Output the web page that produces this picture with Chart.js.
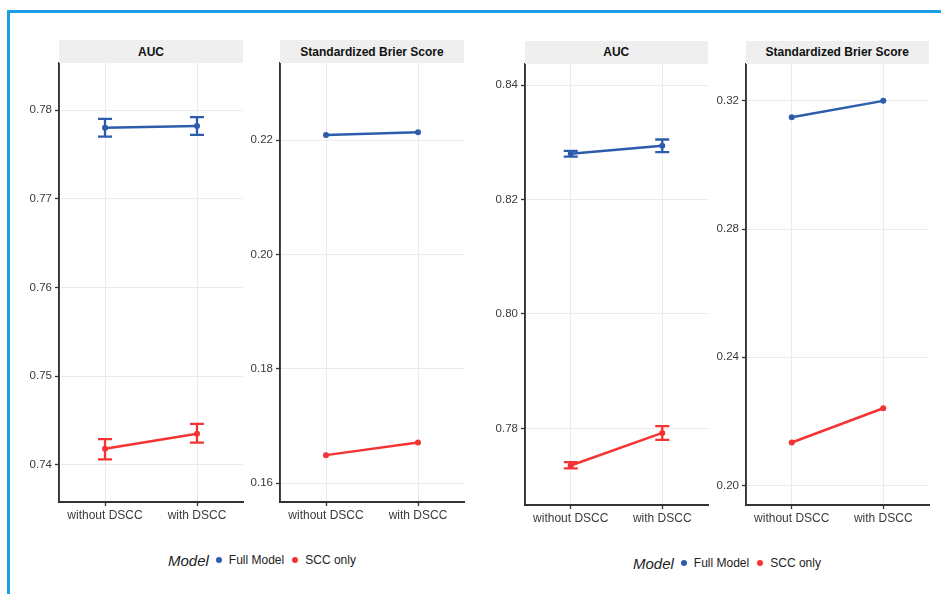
<!DOCTYPE html>
<html>
<head>
<meta charset="utf-8">
<script src="https://cdn.jsdelivr.net/npm/chart.js@4/dist/chart.umd.min.js"></script>
<style>
  html, body { margin: 0; padding: 0; background: #fff; }
  body { width: 941px; height: 594px; position: relative; overflow: hidden;
         font-family: "Liberation Sans", Arial, sans-serif; }
  .frame { position: absolute; left: 7px; top: 10px; right: -10px; bottom: -10px;
           border-top: 3px solid #1c9fe4; border-left: 3px solid #1c9fe4; }
  canvas { position: absolute; }
  .strip { position: absolute; background: #efefef; color: #111; font-weight: bold;
           font-size: 12px; display: flex; align-items: center; justify-content: center; }
  .legend { position: absolute; display: flex; align-items: center; height: 20px;
            font-size: 12px; color: #222; }
  .legend .title { font-style: italic; font-size: 15px; margin-right: 7px; }
  .legend .dot { width: 6px; height: 6px; border-radius: 50%; margin-right: 7px; }
  .legend .item { margin-right: 8px; }
</style>
</head>
<body>
<div class="frame"></div>

<script>
var categories = ['without DSCC', 'with DSCC'];
var seriesNames = ['Full Model', 'SCC only'];
var seriesColors = ['#2c5cab', '#f43434'];
var panelTitles = ['AUC', 'Standardized Brier Score', 'AUC', 'Standardized Brier Score'];

// left figure, AUC
var aucLeftFull = [0.7780, 0.7782];
var aucLeftFullLow = [0.7770, 0.7772];
var aucLeftFullHigh = [0.7790, 0.7792];
var aucLeftScc = [0.7418, 0.7435];
var aucLeftSccLow = [0.7406, 0.7425];
var aucLeftSccHigh = [0.7429, 0.7446];
var aucLeftTicks = [0.74, 0.75, 0.76, 0.77, 0.78];
var aucLeftRange = [0.7358, 0.7853];

// left figure, Brier
var brierLeftFull = [0.2209, 0.2214];
var brierLeftScc = [0.1649, 0.1671];
var brierLeftTicks = [0.16, 0.18, 0.20, 0.22];
var brierLeftRange = [0.1567, 0.2335];

// right figure, AUC
var aucRightFull = [0.8280, 0.8294];
var aucRightFullLow = [0.8275, 0.8283];
var aucRightFullHigh = [0.8285, 0.8305];
var aucRightScc = [0.7735, 0.7792];
var aucRightSccLow = [0.7730, 0.7780];
var aucRightSccHigh = [0.7741, 0.7804];
var aucRightTicks = [0.78, 0.80, 0.82, 0.84];
var aucRightRange = [0.7666, 0.8437];

// right figure, Brier
var brierRightFull = [0.3149, 0.3200];
var brierRightScc = [0.2134, 0.2241];
var brierRightTicks = [0.20, 0.24, 0.28, 0.32];
var brierRightRange = [0.1939, 0.3315];

var FONT = '"Liberation Sans", Arial, sans-serif';
var AXIS_W = 55, AXIS_H = 30, PAD_T = 10, PAD_R = 10;

// draws the error bars from errLow / errHigh on each dataset
var errorBars = {
  id: 'errorBars',
  afterDatasetsDraw: function (chart) {
    var ctx = chart.ctx;
    var y = chart.scales.y;
    chart.data.datasets.forEach(function (ds, di) {
      if (!ds.errLow) return;
      var meta = chart.getDatasetMeta(di);
      ctx.save();
      ctx.strokeStyle = ds.borderColor;
      ctx.lineWidth = 2.3;
      meta.data.forEach(function (pt, i) {
        var lo = y.getPixelForValue(ds.errLow[i]);
        var hi = y.getPixelForValue(ds.errHigh[i]);
        ctx.beginPath();
        ctx.moveTo(pt.x, lo); ctx.lineTo(pt.x, hi);
        ctx.moveTo(pt.x - 7, lo); ctx.lineTo(pt.x + 7, lo);
        ctx.moveTo(pt.x - 7, hi); ctx.lineTo(pt.x + 7, hi);
        ctx.stroke();
      });
      ctx.restore();
    });
  }
};

function makeSeries(name, color, values, low, high) {
  return {
    label: name,
    data: values,
    errLow: low,
    errHigh: high,
    borderColor: color,
    backgroundColor: color,
    borderWidth: 2.5,
    pointRadius: 3,
    pointBorderWidth: 0,
    tension: 0
  };
}

function panel(box, title, datasets, ticks, range) {
  var L = box[0], R = box[1], T = box[2], B = box[3];
  var cv = document.createElement('canvas');
  var w = (R - L) + AXIS_W + PAD_R, h = (B - T) + PAD_T + AXIS_H;
  cv.width = w; cv.height = h;
  cv.style.left = (L - AXIS_W) + 'px';
  cv.style.top = (T - PAD_T) + 'px';
  cv.style.width = w + 'px'; cv.style.height = h + 'px';
  document.body.appendChild(cv);

  var strip = document.createElement('div');
  strip.className = 'strip';
  strip.textContent = title;
  strip.style.left = L + 'px';
  strip.style.width = (R - L) + 'px';
  strip.style.top = (T - 23) + 'px';
  strip.style.height = '23px';
  document.body.appendChild(strip);

  new Chart(cv, {
    type: 'line',
    data: { labels: categories, datasets: datasets },
    options: {
      responsive: false,
      animation: false,
      layout: { padding: { top: PAD_T, right: PAD_R, left: 0, bottom: 0 } },
      plugins: { legend: { display: false }, tooltip: { enabled: false } },
      scales: {
        x: {
          type: 'category',
          offset: true,
          afterFit: function (s) { s.height = AXIS_H; },
          grid: { color: '#ebebeb', lineWidth: 1, offset: false, tickColor: '#333', tickLength: 4, tickWidth: 1.3 },
          border: { color: '#333', width: 1.9 },
          ticks: { color: '#3a3a3a', font: { family: FONT, size: 12 }, padding: 2, maxRotation: 0, autoSkip: false }
        },
        y: {
          type: 'linear',
          min: range[0],
          max: range[1],
          bounds: 'data',
          afterFit: function (s) { s.width = AXIS_W; },
          afterBuildTicks: function (s) { s.ticks = ticks.map(function (v) { return { value: v }; }); },
          grid: { color: '#ebebeb', lineWidth: 1, tickColor: '#333', tickLength: 4, tickWidth: 1.3 },
          border: { color: '#333', width: 1.9 },
          ticks: {
            color: '#3a3a3a', font: { family: FONT, size: 11.5 }, padding: 3,
            callback: function (v) { return Number(v).toFixed(2); }
          }
        }
      }
    },
    plugins: [errorBars]
  });
}

function legend(x, y) {
  var el = document.createElement('div');
  el.className = 'legend';
  el.style.left = x + 'px';
  el.style.top = (y - 10) + 'px';
  var t = document.createElement('span');
  t.className = 'title';
  t.textContent = 'Model';
  el.appendChild(t);
  seriesNames.forEach(function (n, i) {
    var d = document.createElement('span');
    d.className = 'dot';
    d.style.background = seriesColors[i];
    el.appendChild(d);
    var s = document.createElement('span');
    s.className = 'item';
    s.textContent = n;
    el.appendChild(s);
  });
  document.body.appendChild(el);
}

panel([59, 243, 63, 502], panelTitles[0], [
  makeSeries(seriesNames[0], seriesColors[0], aucLeftFull, aucLeftFullLow, aucLeftFullHigh),
  makeSeries(seriesNames[1], seriesColors[1], aucLeftScc, aucLeftSccLow, aucLeftSccHigh)
], aucLeftTicks, aucLeftRange);

panel([280, 464, 63, 502], panelTitles[1], [
  makeSeries(seriesNames[0], seriesColors[0], brierLeftFull),
  makeSeries(seriesNames[1], seriesColors[1], brierLeftScc)
], brierLeftTicks, brierLeftRange);

panel([524.5, 708, 63.5, 505], panelTitles[2], [
  makeSeries(seriesNames[0], seriesColors[0], aucRightFull, aucRightFullLow, aucRightFullHigh),
  makeSeries(seriesNames[1], seriesColors[1], aucRightScc, aucRightSccLow, aucRightSccHigh)
], aucRightTicks, aucRightRange);

panel([745.5, 929, 63.5, 505], panelTitles[3], [
  makeSeries(seriesNames[0], seriesColors[0], brierRightFull),
  makeSeries(seriesNames[1], seriesColors[1], brierRightScc)
], brierRightTicks, brierRightRange);

legend(168, 560);
legend(633, 563);
</script>
</body>
</html>
